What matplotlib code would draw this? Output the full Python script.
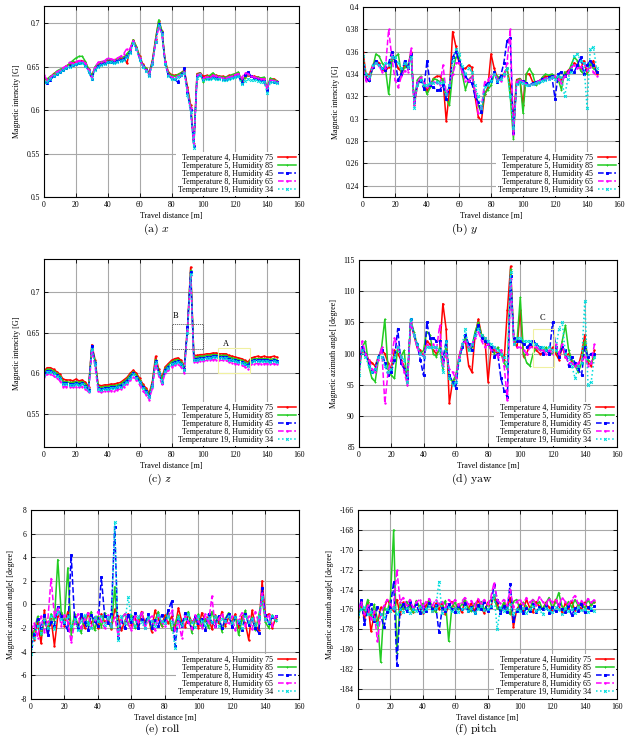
import matplotlib.pyplot as plt
from matplotlib.patches import Rectangle
from matplotlib.ticker import FuncFormatter

plt.rcParams['font.family'] = ['Liberation Serif', 'DejaVu Serif']
plt.rcParams['mathtext.fontset'] = 'cm'

# travel distance samples [m]
dist = list(range(0, 147, 2))

labels = ['Temperature 4, Humidity 75', 'Temperature 5, Humidity 85',
          'Temperature 8, Humidity 45', 'Temperature 8, Humidity 65',
          'Temperature 19, Humidity 34']

# (a) x component [G]
x_t4h75 = [0.637, 0.635, 0.638, 0.642, 0.644, 0.646, 0.648, 0.651, 0.653, 0.655,
           0.655, 0.657, 0.657, 0.655, 0.647, 0.640, 0.649, 0.653, 0.655, 0.656,
           0.658, 0.657, 0.658, 0.659, 0.660, 0.661, 0.654, 0.670, 0.681, 0.673,
           0.662, 0.653, 0.648, 0.643, 0.657, 0.682, 0.703, 0.691, 0.657, 0.644,
           0.641, 0.640, 0.641, 0.643, 0.646, 0.627, 0.606, 0.560, 0.642, 0.643,
           0.639, 0.640, 0.639, 0.641, 0.640, 0.639, 0.639, 0.638, 0.640, 0.640,
           0.642, 0.643, 0.634, 0.638, 0.640, 0.639, 0.639, 0.638, 0.637, 0.637,
           0.624, 0.636, 0.636, 0.634]
x_t5h85 = [0.635, 0.636, 0.639, 0.641, 0.645, 0.647, 0.648, 0.650, 0.654, 0.657,
           0.660, 0.662, 0.662, 0.656, 0.647, 0.639, 0.650, 0.654, 0.656, 0.656,
           0.659, 0.658, 0.657, 0.659, 0.661, 0.661, 0.665, 0.669, 0.681, 0.673,
           0.661, 0.652, 0.648, 0.642, 0.656, 0.681, 0.704, 0.691, 0.656, 0.643,
           0.640, 0.639, 0.641, 0.643, 0.645, 0.624, 0.604, 0.562, 0.641, 0.643,
           0.632, 0.639, 0.640, 0.643, 0.639, 0.639, 0.638, 0.638, 0.639, 0.641,
           0.642, 0.644, 0.633, 0.637, 0.641, 0.639, 0.638, 0.638, 0.637, 0.638,
           0.626, 0.637, 0.635, 0.634]
x_t8h45 = [0.632, 0.631, 0.635, 0.639, 0.642, 0.644, 0.646, 0.648, 0.651, 0.652,
           0.653, 0.654, 0.655, 0.652, 0.645, 0.636, 0.647, 0.651, 0.653, 0.654,
           0.656, 0.656, 0.655, 0.657, 0.658, 0.659, 0.662, 0.667, 0.678, 0.671,
           0.659, 0.651, 0.646, 0.641, 0.654, 0.679, 0.699, 0.689, 0.654, 0.640,
           0.637, 0.636, 0.632, 0.640, 0.648, 0.620, 0.600, 0.559, 0.639, 0.641,
           0.636, 0.637, 0.637, 0.638, 0.637, 0.637, 0.636, 0.636, 0.637, 0.638,
           0.639, 0.640, 0.631, 0.641, 0.644, 0.639, 0.637, 0.636, 0.635, 0.634,
           0.623, 0.634, 0.633, 0.632]
x_t8h65 = [0.640, 0.635, 0.638, 0.641, 0.644, 0.646, 0.649, 0.651, 0.655, 0.654,
           0.656, 0.657, 0.657, 0.654, 0.646, 0.637, 0.650, 0.655, 0.656, 0.657,
           0.660, 0.659, 0.658, 0.660, 0.662, 0.665, 0.671, 0.671, 0.680, 0.671,
           0.660, 0.651, 0.646, 0.641, 0.654, 0.678, 0.696, 0.688, 0.655, 0.641,
           0.638, 0.637, 0.639, 0.641, 0.644, 0.622, 0.602, 0.560, 0.640, 0.642,
           0.637, 0.638, 0.638, 0.640, 0.639, 0.638, 0.637, 0.637, 0.638, 0.639,
           0.641, 0.642, 0.637, 0.643, 0.642, 0.639, 0.638, 0.637, 0.636, 0.636,
           0.625, 0.635, 0.634, 0.633]
x_t19h34 = [0.632, 0.633, 0.636, 0.639, 0.642, 0.644, 0.646, 0.648, 0.650, 0.652,
            0.653, 0.654, 0.654, 0.651, 0.644, 0.636, 0.646, 0.650, 0.652, 0.653,
            0.655, 0.655, 0.654, 0.656, 0.657, 0.658, 0.661, 0.666, 0.677, 0.670,
            0.658, 0.650, 0.645, 0.639, 0.653, 0.678, 0.698, 0.688, 0.653, 0.639,
            0.636, 0.636, 0.638, 0.640, 0.643, 0.618, 0.598, 0.557, 0.637, 0.640,
            0.635, 0.636, 0.636, 0.637, 0.636, 0.636, 0.635, 0.635, 0.636, 0.637,
            0.638, 0.639, 0.630, 0.634, 0.636, 0.635, 0.635, 0.634, 0.633, 0.633,
            0.620, 0.632, 0.632, 0.631]

# (b) y component [G]
y_t4h75 = [0.360, 0.338, 0.340, 0.348, 0.352, 0.350, 0.344, 0.343, 0.346, 0.355,
           0.352, 0.345, 0.342, 0.348, 0.345, 0.360, 0.312, 0.330, 0.336, 0.332,
           0.325, 0.330, 0.336, 0.338, 0.338, 0.334, 0.298, 0.325, 0.378, 0.365,
           0.350, 0.345, 0.345, 0.348, 0.346, 0.320, 0.302, 0.298, 0.322, 0.328,
           0.358, 0.345, 0.336, 0.338, 0.340, 0.345, 0.330, 0.300, 0.335, 0.336,
           0.312, 0.340, 0.340, 0.333, 0.332, 0.334, 0.336, 0.338, 0.338, 0.339,
           0.337, 0.338, 0.335, 0.340, 0.343, 0.346, 0.350, 0.348, 0.345, 0.352,
           0.342, 0.348, 0.352, 0.340]
y_t5h85 = [0.352, 0.336, 0.334, 0.345, 0.358, 0.356, 0.350, 0.345, 0.322, 0.352,
           0.355, 0.358, 0.340, 0.346, 0.348, 0.358, 0.315, 0.335, 0.338, 0.330,
           0.322, 0.328, 0.336, 0.335, 0.333, 0.336, 0.318, 0.312, 0.340, 0.355,
           0.356, 0.340, 0.326, 0.335, 0.338, 0.325, 0.312, 0.305, 0.322, 0.326,
           0.330, 0.340, 0.338, 0.335, 0.340, 0.345, 0.320, 0.282, 0.334, 0.336,
           0.305, 0.340, 0.345, 0.340, 0.330, 0.332, 0.337, 0.340, 0.339, 0.340,
           0.338, 0.335, 0.326, 0.342, 0.340, 0.348, 0.355, 0.352, 0.343, 0.340,
           0.340, 0.350, 0.345, 0.343]
y_t8h45 = [0.348, 0.336, 0.335, 0.346, 0.352, 0.348, 0.345, 0.344, 0.350, 0.360,
           0.352, 0.335, 0.340, 0.352, 0.345, 0.358, 0.315, 0.332, 0.334, 0.327,
           0.352, 0.330, 0.328, 0.326, 0.326, 0.330, 0.318, 0.328, 0.355, 0.360,
           0.352, 0.345, 0.338, 0.334, 0.332, 0.320, 0.315, 0.306, 0.330, 0.332,
           0.334, 0.342, 0.333, 0.338, 0.350, 0.370, 0.372, 0.287, 0.332, 0.334,
           0.334, 0.332, 0.330, 0.332, 0.333, 0.334, 0.336, 0.336, 0.337, 0.338,
           0.318, 0.340, 0.342, 0.338, 0.342, 0.344, 0.342, 0.348, 0.355, 0.340,
           0.348, 0.352, 0.348, 0.342]
y_t8h65 = [0.345, 0.334, 0.336, 0.347, 0.350, 0.347, 0.342, 0.345, 0.380, 0.355,
           0.335, 0.328, 0.338, 0.343, 0.342, 0.363, 0.312, 0.333, 0.337, 0.332,
           0.328, 0.331, 0.333, 0.332, 0.330, 0.348, 0.322, 0.330, 0.340, 0.350,
           0.350, 0.342, 0.334, 0.334, 0.338, 0.325, 0.305, 0.310, 0.333, 0.335,
           0.338, 0.340, 0.336, 0.334, 0.338, 0.350, 0.380, 0.286, 0.333, 0.335,
           0.333, 0.331, 0.330, 0.331, 0.332, 0.334, 0.335, 0.336, 0.336, 0.337,
           0.338, 0.336, 0.332, 0.338, 0.341, 0.346, 0.348, 0.345, 0.346, 0.350,
           0.344, 0.346, 0.342, 0.338]
y_t19h34 = [0.356, 0.340, 0.338, 0.348, 0.350, 0.348, 0.345, 0.350, 0.348, 0.355,
            0.355, 0.350, 0.345, 0.350, 0.346, 0.355, 0.310, 0.330, 0.335, 0.330,
            0.330, 0.332, 0.332, 0.333, 0.332, 0.333, 0.322, 0.330, 0.352, 0.362,
            0.358, 0.347, 0.340, 0.345, 0.342, 0.330, 0.320, 0.310, 0.328, 0.330,
            0.334, 0.340, 0.334, 0.336, 0.340, 0.345, 0.320, 0.292, 0.331, 0.333,
            0.332, 0.330, 0.330, 0.331, 0.332, 0.333, 0.334, 0.335, 0.336, 0.337,
            0.336, 0.338, 0.337, 0.320, 0.336, 0.342, 0.356, 0.358, 0.352, 0.350,
            0.310, 0.362, 0.364, 0.345]

# (c) z component [G]
z_t4h75 = [0.603, 0.607, 0.607, 0.605, 0.602, 0.599, 0.593, 0.592, 0.592, 0.591,
           0.593, 0.591, 0.592, 0.589, 0.584, 0.635, 0.617, 0.586, 0.585, 0.586,
           0.586, 0.587, 0.587, 0.588, 0.589, 0.592, 0.595, 0.600, 0.604, 0.600,
           0.594, 0.587, 0.582, 0.576, 0.590, 0.621, 0.605, 0.595, 0.608, 0.612,
           0.616, 0.618, 0.619, 0.616, 0.609, 0.655, 0.730, 0.622, 0.622, 0.623,
           0.623, 0.624, 0.624, 0.625, 0.625, 0.624, 0.624, 0.624, 0.622, 0.621,
           0.620, 0.619, 0.618, 0.616, 0.614, 0.619, 0.620, 0.621, 0.620, 0.621,
           0.620, 0.620, 0.621, 0.620]
z_t5h85 = [0.601, 0.605, 0.605, 0.603, 0.600, 0.597, 0.590, 0.590, 0.589, 0.589,
           0.590, 0.589, 0.590, 0.587, 0.582, 0.633, 0.615, 0.584, 0.583, 0.584,
           0.584, 0.585, 0.585, 0.586, 0.587, 0.590, 0.593, 0.598, 0.602, 0.598,
           0.592, 0.585, 0.580, 0.574, 0.588, 0.617, 0.603, 0.593, 0.606, 0.610,
           0.614, 0.616, 0.617, 0.614, 0.607, 0.653, 0.726, 0.620, 0.620, 0.621,
           0.621, 0.622, 0.622, 0.623, 0.623, 0.622, 0.622, 0.622, 0.620, 0.619,
           0.618, 0.617, 0.616, 0.614, 0.612, 0.617, 0.618, 0.618, 0.618, 0.618,
           0.618, 0.617, 0.618, 0.617]
z_t8h45 = [0.599, 0.603, 0.603, 0.601, 0.598, 0.595, 0.588, 0.588, 0.587, 0.587,
           0.588, 0.587, 0.588, 0.585, 0.580, 0.634, 0.613, 0.582, 0.581, 0.582,
           0.582, 0.583, 0.583, 0.584, 0.585, 0.588, 0.591, 0.596, 0.600, 0.596,
           0.590, 0.583, 0.578, 0.572, 0.586, 0.615, 0.601, 0.588, 0.604, 0.608,
           0.612, 0.614, 0.615, 0.612, 0.605, 0.657, 0.724, 0.618, 0.618, 0.619,
           0.619, 0.620, 0.620, 0.621, 0.621, 0.620, 0.620, 0.620, 0.618, 0.617,
           0.616, 0.615, 0.614, 0.612, 0.610, 0.615, 0.616, 0.616, 0.616, 0.616,
           0.616, 0.615, 0.616, 0.615]
z_t8h65 = [0.596, 0.599, 0.599, 0.597, 0.594, 0.591, 0.584, 0.584, 0.583, 0.583,
           0.584, 0.583, 0.584, 0.581, 0.577, 0.628, 0.609, 0.578, 0.577, 0.578,
           0.578, 0.579, 0.579, 0.580, 0.581, 0.584, 0.587, 0.592, 0.596, 0.592,
           0.586, 0.579, 0.574, 0.568, 0.582, 0.612, 0.597, 0.587, 0.600, 0.604,
           0.608, 0.610, 0.611, 0.608, 0.601, 0.652, 0.720, 0.614, 0.614, 0.615,
           0.615, 0.616, 0.616, 0.617, 0.617, 0.616, 0.616, 0.616, 0.614, 0.613,
           0.612, 0.611, 0.610, 0.608, 0.606, 0.611, 0.612, 0.612, 0.612, 0.612,
           0.612, 0.611, 0.612, 0.611]
z_t19h34 = [0.598, 0.602, 0.602, 0.600, 0.597, 0.594, 0.587, 0.587, 0.586, 0.586,
            0.587, 0.586, 0.587, 0.584, 0.579, 0.630, 0.612, 0.581, 0.580, 0.581,
            0.581, 0.582, 0.582, 0.583, 0.584, 0.587, 0.590, 0.595, 0.599, 0.595,
            0.589, 0.582, 0.577, 0.571, 0.585, 0.614, 0.600, 0.590, 0.603, 0.607,
            0.611, 0.613, 0.614, 0.611, 0.604, 0.650, 0.722, 0.617, 0.617, 0.618,
            0.618, 0.619, 0.619, 0.620, 0.620, 0.619, 0.619, 0.619, 0.617, 0.616,
            0.615, 0.614, 0.613, 0.611, 0.609, 0.614, 0.615, 0.615, 0.615, 0.615,
            0.615, 0.614, 0.615, 0.614]

# (d) yaw [degree]
yaw_t4h75 = [98.0, 100.5, 100.0, 99.0, 98.5, 98.0, 99.5, 100.5, 100.0, 98.5,
             97.5, 100.5, 100.0, 99.0, 98.0, 95.5, 105.0, 103.0, 101.0, 100.5,
             99.5, 102.0, 101.5, 100.5, 100.0, 100.5, 108.0, 104.0, 92.0, 95.5,
             96.0, 99.5, 101.5, 102.0, 98.0, 97.0, 103.0, 105.5, 103.0, 102.5,
             95.5, 101.0, 100.5, 100.0, 100.5, 99.0, 107.0, 114.0, 102.0, 101.0,
             107.0, 99.5, 100.0, 101.5, 101.0, 100.5, 100.0, 100.0, 100.5, 100.0,
             101.0, 100.0, 99.0, 101.0, 99.5, 100.0, 98.5, 98.0, 98.0, 100.0,
             103.0, 98.5, 98.0, 100.5]
yaw_t5h85 = [97.0, 101.0, 102.0, 98.0, 96.0, 95.5, 99.0, 101.0, 105.5, 97.5,
             96.5, 96.0, 101.0, 99.5, 100.5, 95.0, 105.5, 103.5, 101.5, 100.0,
             100.5, 103.5, 103.0, 100.0, 99.5, 101.0, 97.5, 101.5, 96.0, 95.5,
             96.5, 99.0, 101.0, 102.5, 100.5, 101.0, 103.5, 105.0, 103.0, 102.0,
             101.5, 100.5, 100.0, 101.0, 100.0, 98.5, 97.5, 113.5, 101.5, 102.0,
             109.0, 100.0, 98.5, 98.0, 100.0, 101.0, 100.5, 100.5, 101.0, 100.0,
             100.0, 100.5, 99.5, 102.0, 104.5, 100.5, 99.0, 98.0, 97.0, 98.5,
             102.0, 99.0, 98.5, 99.5]
yaw_t8h45 = [98.5, 101.0, 100.0, 98.5, 97.0, 97.5, 99.5, 100.5, 98.5, 96.5,
             97.0, 99.0, 104.0, 98.5, 97.5, 96.0, 105.5, 103.0, 101.5, 99.0,
             96.5, 105.0, 102.5, 102.5, 102.0, 102.0, 99.0, 102.0, 96.5, 95.5,
             94.5, 99.0, 101.0, 103.0, 101.5, 100.5, 103.0, 104.5, 102.5, 102.0,
             101.5, 101.0, 99.5, 100.0, 96.0, 94.0, 93.0, 112.5, 102.5, 102.0,
             102.0, 101.5, 101.0, 101.5, 102.0, 101.5, 101.0, 100.0, 100.5, 100.0,
             105.0, 101.0, 99.5, 101.0, 100.5, 98.0, 99.5, 98.5, 97.5, 96.5,
             101.0, 99.5, 100.0, 100.0]
yaw_t8h65 = [97.5, 102.0, 100.0, 99.0, 97.5, 97.0, 99.0, 101.0, 92.0, 97.0,
             99.0, 102.5, 101.0, 99.5, 97.0, 95.0, 105.0, 103.0, 101.0, 100.0,
             99.5, 101.5, 101.0, 101.5, 100.5, 104.5, 98.0, 100.0, 97.5, 97.0,
             96.0, 99.5, 101.5, 102.0, 101.0, 101.5, 102.5, 103.5, 102.0, 101.0,
             101.5, 100.5, 101.0, 99.5, 100.5, 98.0, 92.5, 112.0, 101.5, 101.0,
             101.0, 100.5, 100.0, 101.0, 101.0, 101.0, 100.5, 100.5, 100.0, 100.5,
             100.0, 101.5, 100.0, 101.5, 99.5, 98.5, 98.5, 98.0, 98.5, 99.0,
             99.5, 98.0, 98.5, 101.5]
yaw_t19h34 = [96.5, 100.5, 99.5, 98.0, 97.0, 97.5, 99.5, 99.5, 98.0, 97.0,
              97.5, 99.5, 101.0, 99.5, 99.0, 95.5, 105.5, 103.0, 101.5, 100.0,
              99.5, 101.0, 101.0, 101.0, 101.0, 100.5, 97.0, 102.0, 96.0, 95.0,
              95.5, 99.0, 101.5, 104.0, 100.5, 101.5, 103.0, 104.0, 103.0, 102.5,
              102.0, 101.5, 101.0, 100.5, 100.0, 99.5, 98.0, 113.0, 101.5, 102.5,
              102.5, 102.0, 102.0, 102.0, 101.5, 101.5, 101.0, 101.0, 100.5, 101.0,
              100.5, 100.5, 104.0, 105.0, 100.0, 99.5, 98.0, 96.0, 98.0, 98.5,
              108.5, 95.0, 95.5, 99.5]

# (e) roll [degree]
roll_t4h75 = [-2.0, -3.0, -1.5, -3.3, -0.5, -2.5, -1.2, -3.5, -1.0, -0.8,
              -1.8, -0.6, -2.2, -1.0, -1.9, -0.9, -2.0, -0.7, -1.6, -1.1,
              -2.0, -0.8, -1.5, -1.2, -2.1, -0.4, -1.0, -2.2, -1.4, -0.8,
              -1.7, -1.0, -2.0, -0.6, -1.5, -1.1, -2.3, -0.5, -1.2, -1.8,
              -0.9, -1.6, -1.0, -2.0, -0.3, -1.4, -1.9, -0.8, -1.5, -1.2,
              -2.0, -0.7, -1.4, -1.0, -2.1, -0.9, -1.6, -0.6, -1.8, -1.1,
              -1.5, -0.8, -2.0, -1.0, -1.6, -3.0, -0.5, -1.7, -2.2, 2.0,
              -1.0, -0.8, -2.0, -1.2]
roll_t5h85 = [-2.8, -2.2, -1.0, -2.6, -1.5, -2.0, -0.8, -1.4, 3.8, -0.6,
              -1.2, 3.1, -2.6, -0.8, -1.7, -2.4, -1.0, -1.8, -0.6, -2.2,
              -1.0, -1.9, -0.7, -1.5, -2.0, 1.5, -2.5, -1.2, -0.8, -1.7,
              -0.9, -2.0, -1.3, -0.7, -1.9, -1.0, -2.1, -1.4, -0.6, -1.8,
              -1.2, -0.7, -2.2, -1.6, -0.9, -1.8, -1.1, -0.6, -2.4, -1.3,
              -0.8, -1.9, -1.2, -2.0, -0.6, -1.5, -1.0, -2.3, -1.2, -0.7,
              -1.8, -1.0, -2.6, -1.3, -0.5, -1.7, -1.1, -2.2, -0.9, 0.5,
              -1.5, -2.0, -0.9, -1.4]
roll_t8h45 = [-3.5, -2.5, -1.2, -2.0, -0.9, -2.6, -1.5, -1.8, -0.2, -1.0,
              -1.6, -2.2, 4.2, -1.1, -2.0, -0.8, -1.5, -2.2, -0.9, -1.4,
              -1.8, 2.3, -1.0, -1.6, -0.8, 6.6, -2.8, -1.4, -2.0, -0.9,
              -1.5, -0.7, -2.0, -1.2, -1.6, -0.8, -2.0, -1.3, -1.8, -0.9,
              -1.4, -0.5, 0.3, -3.5, -1.2, -1.8, -0.7, -1.5, -2.0, -1.0,
              -1.6, -1.2, -2.2, -0.8, -1.5, -1.8, -1.0, -2.0, -1.3, -0.8,
              -1.9, -1.1, -1.5, -2.2, -0.8, -1.7, -1.2, -2.0, -2.4, 1.4,
              -0.9, -1.6, -1.1, -1.0]
roll_t8h65 = [-2.2, -1.6, -2.8, -1.0, -2.3, -1.4, 2.2, -1.0, -0.3, -1.8,
              -0.9, -1.5, -3.2, -1.6, -0.8, -2.0, -1.2, -0.7, -1.9, -1.3,
              -0.6, -1.4, -2.0, -0.9, -1.8, -1.1, -2.6, -1.2, -0.8, -1.6,
              -2.2, -1.0, -1.5, -0.6, -2.0, -1.3, -1.0, -2.2, -0.9, -1.5,
              -1.8, -1.0, -0.5, -2.2, -1.4, -2.8, -1.0, -1.5, -2.1, -0.9,
              -1.4, -2.0, -0.8, -1.6, 0.7, -1.9, -1.2, -0.8, -1.5, -1.6,
              -1.0, -2.2, -1.2, -0.7, -1.8, -1.0, -2.1, -0.6, -1.6, 1.0,
              -1.3, -0.9, -1.8, -1.0]
roll_t19h34 = [-4.2, -2.8, -1.8, -2.4, -1.2, -2.0, -1.0, -2.1, -0.6, -1.2,
               -1.5, -1.0, -1.8, -1.2, -2.2, -1.4, -0.9, -1.6, -2.0, -1.1,
               -1.4, -1.0, -1.7, -1.1, -1.8, 7.0, -3.0, -1.0, -1.6, 0.6,
               -1.2, -1.8, -1.0, -1.5, -2.0, -1.1, -1.4, -1.8, -0.9, -1.4,
               -1.6, -1.0, -1.5, -3.7, -1.1, -1.7, -1.2, -0.8, -1.5, -1.9,
               -1.0, -1.4, -1.7, -1.1, -1.5, -1.0, -1.8, -1.2, -1.4, -1.0,
               -1.6, -1.1, -1.4, -2.0, -1.0, -1.5, -1.2, -1.7, -1.1, 0.6,
               -1.2, -1.5, -1.0, -1.3]

# (f) pitch [degree]
pitch_t4h75 = [-176.8, -175.5, -177.0, -175.2, -178.2, -176.5, -177.5, -175.8, -176.0, -175.0,
               -175.6, -176.2, -175.0, -176.5, -175.3, -176.0, -175.5, -176.3, -175.2, -175.8,
               -176.4, -175.6, -175.0, -176.2, -175.4, -176.0, -175.3, -176.5, -175.6, -175.2,
               -176.0, -175.5, -176.3, -175.2, -175.9, -175.4, -176.2, -175.0, -175.8, -176.4,
               -175.3, -175.8, -174.5, -175.5, -176.2, -175.4, -176.0, -174.8, -177.8, -176.0,
               -175.5, -176.2, -175.0, -175.8, -176.3, -175.2, -175.7, -176.0, -175.3, -175.8,
               -176.2, -175.0, -175.6, -176.3, -175.4, -175.9, -175.2, -176.1, -175.5, -176.0,
               -175.3, -175.9, -175.5, -175.2]
pitch_t5h85 = [-177.2, -175.2, -176.3, -175.0, -176.8, -175.5, -177.0, -181.3, -175.8, -176.2,
               -175.0, -168.0, -180.4, -175.3, -176.0, -175.2, -175.8, -176.3, -175.1, -175.7,
               -175.4, -176.2, -175.0, -175.8, -176.3, -175.4, -175.8, -175.1, -179.2, -175.7,
               -175.3, -176.0, -175.5, -175.0, -175.9, -176.2, -175.4, -175.8, -175.2, -176.0,
               -175.6, -175.0, -174.8, -175.9, -176.1, -175.3, -175.8, -176.5, -175.2, -175.0,
               -176.0, -175.3, -175.7, -176.2, -175.0, -175.6, -175.2, -176.0, -175.4, -174.8,
               -175.9, -175.3, -174.3, -175.7, -176.1, -175.2, -175.8, -175.0, -175.6, -175.3,
               -175.9, -175.0, -175.6, -175.2]
pitch_t8h45 = [-176.5, -175.0, -177.5, -176.0, -175.5, -177.2, -175.8, -176.5, -177.8, -176.3,
               -175.8, -173.2, -181.6, -176.0, -175.5, -176.2, -175.3, -176.0, -175.5, -176.4,
               -175.7, -176.2, -175.4, -176.0, -175.6, -178.3, -175.9, -176.2, -175.5, -176.0,
               -176.3, -175.7, -176.0, -175.4, -176.2, -175.8, -176.4, -175.6, -176.0, -175.3,
               -176.2, -175.8, -173.5, -175.0, -176.4, -175.7, -176.3, -173.4, -177.2, -176.2,
               -175.7, -176.4, -175.9, -176.2, -175.5, -176.3, -175.8, -176.0, -175.6, -176.4,
               -175.8, -176.2, -175.5, -176.0, -176.3, -175.7, -176.6, -175.9, -176.2, -175.5,
               -176.3, -175.8, -176.1, -175.7]
pitch_t8h65 = [-176.0, -175.3, -176.5, -175.6, -177.0, -176.2, -179.2, -176.5, -175.6, -175.0,
               -175.5, -176.0, -172.0, -175.2, -174.8, -175.6, -175.0, -175.8, -175.3, -175.0,
               -175.8, -175.2, -174.9, -175.6, -175.0, -175.5, -175.2, -175.8, -175.0, -175.4,
               -175.0, -175.6, -175.2, -174.8, -175.5, -175.1, -175.7, -174.9, -175.4, -175.0,
               -175.5, -174.8, -173.3, -175.0, -175.4, -175.0, -175.6, -174.0, -175.8, -175.2,
               -175.0, -175.5, -174.8, -175.3, -175.0, -175.6, -174.7, -175.2, -175.5, -174.9,
               -175.3, -175.0, -175.6, -174.8, -175.2, -175.5, -175.0, -174.6, -175.4, -175.1,
               -175.5, -174.9, -175.3, -175.0]
pitch_t19h34 = [-176.5, -176.0, -175.8, -176.5, -176.3, -177.0, -177.5, -176.5, -176.8, -176.0,
                -176.2, -175.8, -176.5, -176.0, -176.3, -175.9, -176.4, -176.0, -176.2, -175.8,
                -176.3, -176.0, -175.7, -176.2, -175.9, -173.2, -176.4, -176.0, -175.8, -176.2,
                -175.9, -176.3, -176.0, -175.8, -176.2, -175.9, -176.4, -176.0, -175.7, -176.1,
                -176.0, -175.7, -174.5, -178.0, -175.8, -176.2, -176.0, -175.5, -176.5, -176.0,
                -176.2, -175.9, -176.4, -176.0, -175.7, -176.2, -176.0, -176.5, -175.9, -176.1,
                -176.3, -175.8, -176.0, -176.5, -175.9, -176.2, -176.0, -176.4, -175.8, -176.1,
                -176.0, -176.3, -175.9, -176.2]

colors = ['#ff0000', '#22cc22', '#0000ff', '#ff00ff', '#00dddd']
styles = [('-', '.'), ('-', '+'), ('--', 's'), ('--', '.'), (':', 'x')]

fig = plt.figure(figsize=(6.27, 7.37), dpi=100)


def panel(rect, series, ylim, yticks, ylabel, caption, cap_x, cap_y):
    ax = fig.add_axes(rect)
    for vals, lab, col, (ls, mk) in zip(series, labels, colors, styles):
        ax.plot(dist, vals, color=col, ls=ls, lw=1.1, marker=mk, ms=2.0,
                mew=0.7, label=lab)
    ax.set_xlim(0, 160)
    ax.set_ylim(*ylim)
    ax.set_xticks(range(0, 161, 20))
    ax.set_yticks(yticks)
    ax.yaxis.set_major_formatter(FuncFormatter(lambda v, p: '%g' % round(v, 4)))
    ax.grid(color='#a8a8a8', lw=0.8)
    ax.tick_params(direction='in', top=True, right=True, labelsize=5.5,
                   length=3, width=0.6, pad=3)
    for s in ax.spines.values():
        s.set_linewidth(0.8)
    ax.set_xlabel('Travel distance [m]', fontsize=5.8, labelpad=2)
    ax.set_ylabel(ylabel, fontsize=5.8, labelpad=4)
    ax.legend(loc='lower right', fontsize=5.8, markerfirst=False, fancybox=False,
              edgecolor='none', framealpha=1, borderpad=0.2, labelspacing=0.02,
              handlelength=2.3, handletextpad=0.6, borderaxespad=0.15)
    fig.text(cap_x, cap_y, caption, ha='center', va='center', fontsize=8.5)
    return ax


panel([0.0702, 0.7327, 0.4067, 0.2592],
      [x_t4h75, x_t5h85, x_t8h45, x_t8h65, x_t19h34],
      (0.5, 0.72), [0.5, 0.55, 0.6, 0.65, 0.7], 'Magnetic intencity [G]',
      r'$\mathrm{(a)}\ x$', 0.25, 0.689)

panel([0.579, 0.7327, 0.4083, 0.2578],
      [y_t4h75, y_t5h85, y_t8h45, y_t8h65, y_t19h34],
      (0.23, 0.40), [0.24, 0.26, 0.28, 0.3, 0.32, 0.34, 0.36, 0.38, 0.4],
      'Magnetic intencity [G]', r'$\mathrm{(b)}\ y$', 0.741, 0.689)

axc = panel([0.0702, 0.3935, 0.4067, 0.2551],
            [z_t4h75, z_t5h85, z_t8h45, z_t8h65, z_t19h34],
            (0.51, 0.74), [0.55, 0.6, 0.65, 0.7], 'Magnetic intencity [G]',
            r'$\mathrm{(c)}\ z$', 0.254, 0.35)
axc.add_patch(Rectangle((80, 0.630), 19.5, 0.031, fill=False, ec='#555555',
                        lw=0.6, ls=(0, (1.5, 1)), zorder=6))
axc.text(81, 0.668, 'B', fontsize=6)
axc.add_patch(Rectangle((109, 0.600), 20.5, 0.031, fill=False, ec='#f0f0a0',
                        lw=0.8, zorder=6))
axc.text(112, 0.633, 'A', fontsize=6)

axd = panel([0.5726, 0.3935, 0.4115, 0.2537],
            [yaw_t4h75, yaw_t5h85, yaw_t8h45, yaw_t8h65, yaw_t19h34],
            (85, 115), [85, 90, 95, 100, 105, 110, 115],
            'Magnetic azimuth angle[ [degree]', r'$\mathrm{(d)\ yaw}$', 0.753, 0.35)
axd.add_patch(Rectangle((108, 97.8), 13, 6.2, fill=False, ec='#f0f0a0',
                        lw=0.8, zorder=6))
axd.text(112, 105.3, 'C', fontsize=6)

panel([0.0494, 0.0516, 0.4274, 0.2564],
      [roll_t4h75, roll_t5h85, roll_t8h45, roll_t8h65, roll_t19h34],
      (-8, 8), [-8, -6, -4, -2, 0, 2, 4, 6, 8],
      'Magnetic azimuth angle[ [degree]', r'$\mathrm{(e)\ roll}$', 0.259, 0.011)

panel([0.571, 0.0516, 0.4131, 0.2564],
      [pitch_t4h75, pitch_t5h85, pitch_t8h45, pitch_t8h65, pitch_t19h34],
      (-185, -166), list(range(-184, -165, 2)),
      'Magnetic azimuth angle[ [degree]', r'$\mathrm{(f)\ pitch}$', 0.759, 0.011)

fig.savefig('out.png', dpi=100)
